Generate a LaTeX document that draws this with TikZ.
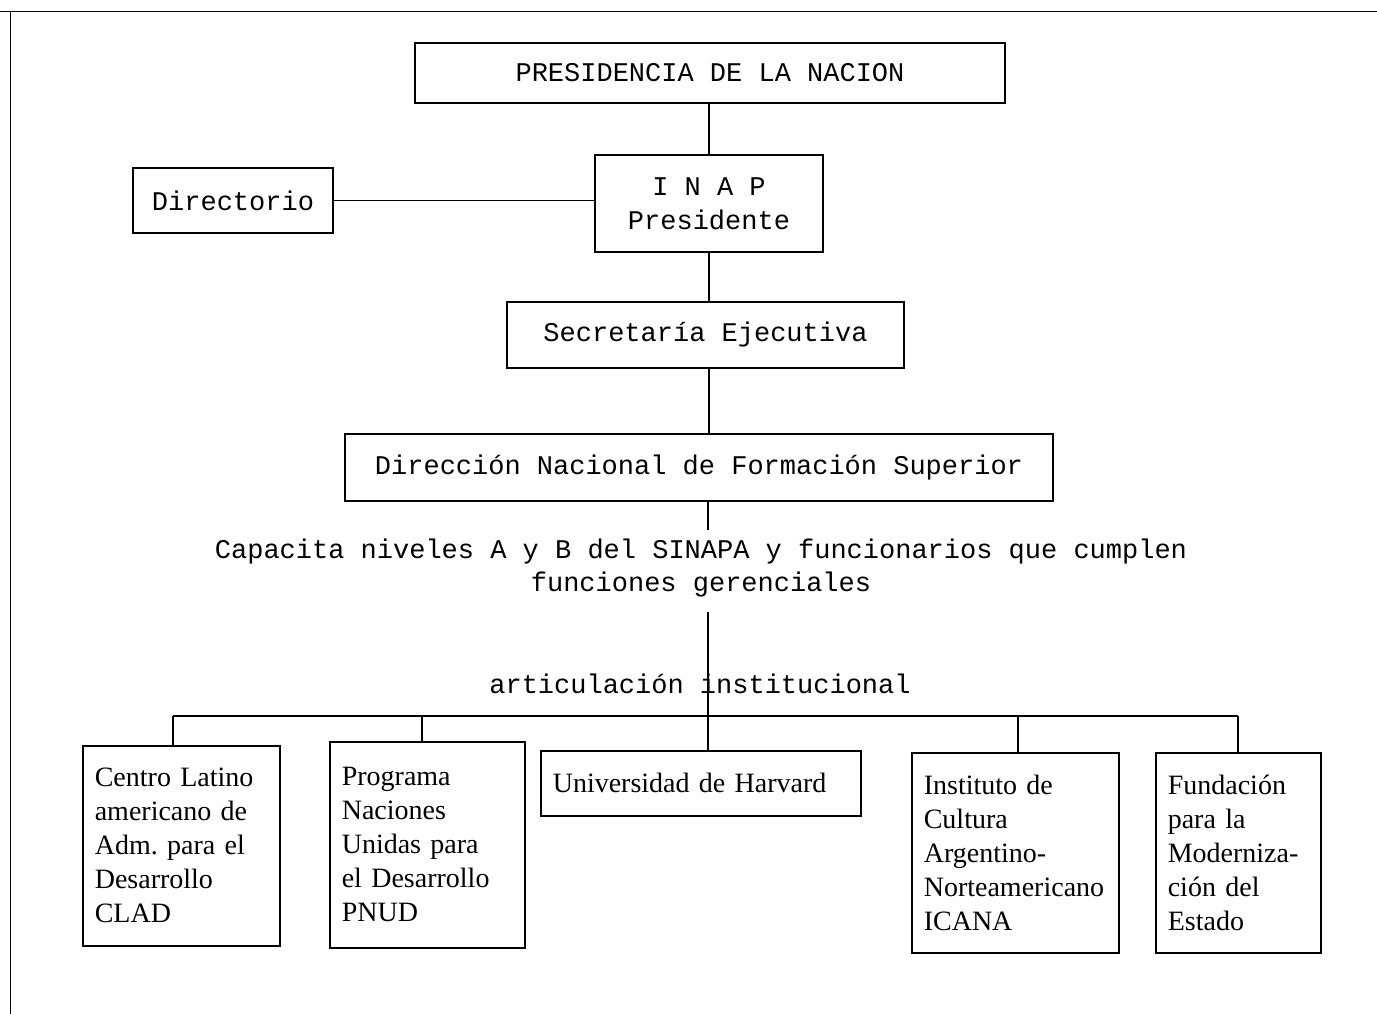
\documentclass[tikz,border=0pt]{standalone}
\usepackage{fontspec}
\setmainfont{Liberation Serif}
\newfontfamily\tw{Liberation Mono}
\frenchspacing
\begin{document}
\begin{tikzpicture}[x=1pt,y=-1pt,line width=1.6pt,
  tbox/.style={draw,font=\tw\fontsize{27}{34}\selectfont,align=center,inner sep=0pt},
  ttext/.style={font=\tw\fontsize{27}{33}\selectfont,align=center,inner sep=0pt},
  bbox/.style={draw,font=\fontsize{28}{34}\selectfont,align=left,inner xsep=12pt,inner ysep=0pt,anchor=north west},
  frame/.style={line width=1pt}]
\useasboundingbox (0,0) rectangle (1377,1014);
% page frame remnants
\coordinate (fTL) at (10,12);
\coordinate (fTR) at (1377,12);
\coordinate (fBL) at (10,1014);
\coordinate (fT0) at (0,12);
\draw[frame] (fT0) -- (fTR);
\draw[frame] (fTL) -- (fBL);
% top boxes
\node[tbox,minimum width=590,minimum height=60] (pres) at (710,73) {PRESIDENCIA DE LA NACION};
\node[tbox,minimum width=200,minimum height=65] (dir) at (233,200.5) {Directorio};
\node[tbox,minimum width=228,minimum height=97] (inap) at (709,203.5) {I N A P\\Presidente};
\node[tbox,minimum width=397,minimum height=66] (sec) at (705.5,335) {Secretaría Ejecutiva};
\node[tbox,minimum width=708,minimum height=67] (dnfs) at (699,467.5) {Dirección Nacional de Formación Superior};
\node[ttext] (cap) at (701,568) {Capacita niveles A y B del SINAPA y funcionarios que cumplen\\funciones gerenciales};
\node[ttext] (art) at (700,684) {articulación institucional};
% bottom boxes
\node[bbox,minimum width=197,minimum height=200,text width=173] (clad) at (82,745)
  {Centro Latino\\americano de\\Adm. para el\\Desarrollo\\CLAD};
\node[bbox,minimum width=195,minimum height=206,text width=171] (pnud) at (329,741)
  {Programa\\Naciones\\Unidas para\\el Desarrollo\\PNUD};
\node[bbox,minimum width=320,minimum height=65,text width=296] (harv) at (540,750)
  {Universidad de Harvard};
\node[bbox,minimum width=207,minimum height=200,text width=183] (icana) at (911,752)
  {Instituto de\\Cultura\\Argentino-\\Norteamericano\\ICANA};
\node[bbox,minimum width=165,minimum height=200,text width=141] (fund) at (1155,752)
  {Fundación\\para la\\Moderniza-\\ción del\\Estado};
% connectors
\draw (pres.south -| inap.north) -- (inap.north);
\draw (dir.east) -- (dir.east -| inap.west);
\coordinate (v1) at (709,0);
\draw (inap.south -| v1) -- (sec.north -| v1);
\draw (sec.south -| v1) -- (dnfs.north -| v1);
\coordinate (t1) at (708,530);
\coordinate (t2) at (708,612);
\draw (dnfs.south -| t1) -- (t1);
\draw (t2) -- (harv.north -| t2);
\coordinate (busL) at (173,716);
\coordinate (busR) at (1238,716);
\coordinate (b2) at (422,716);
\coordinate (b4) at (1018,716);
\draw (busL) -- (busR);
\draw (busL) -- (clad.north -| busL);
\draw (b2) -- (pnud.north -| b2);
\draw (b4) -- (icana.north -| b4);
\draw (busR) -- (fund.north -| busR);
\end{tikzpicture}
\end{document}
